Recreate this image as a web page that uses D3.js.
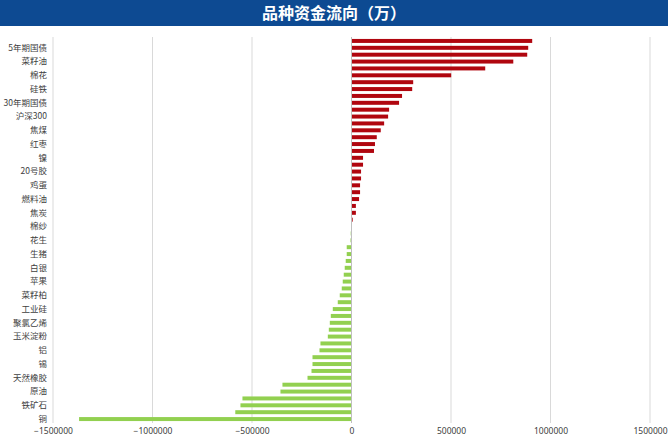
<!DOCTYPE html>
<html>
<head>
<meta charset="utf-8">
<script src="https://cdn.jsdelivr.net/npm/d3@7"></script>
<style>
  body { margin: 0; background: #fff; }
  svg { display: block; font-family: "Noto Sans CJK SC", "Noto Sans", sans-serif; }
</style>
</head>
<body>
<svg id="chart"></svg>
<script>
// categories top to bottom; only every other one is labelled on the chart
const categories = [
  '10年期国债', '5年期国债', '2年期国债', '菜籽油', '豆油', '棉花', '白糖', '硅铁',
  '锰硅', '30年期国债', '中证500', '沪深300', '上证50', '焦煤', '中证1000', '红枣',
  '纸浆', '镍', 'PTA', '20号胶', '玻璃', '鸡蛋', '尿素', '燃料油',
  '沥青', '焦炭', '短纤', '棉纱', '苯乙烯', '花生', '纯碱', '生猪',
  '豆粕', '白银', '乙二醇', '苹果', '塑料', '菜籽柏', '聚丙烯', '工业硅',
  '甲醇', '聚氯乙烯', '玉米', '玉米淀粉', '锌', '铝', '不锈钢', '锡',
  '螺纹钢', '天然橡胶', '热卷', '原油', '黄金', '铁矿石', '豆一', '铜'
];
const flows = [
  908000, 888000, 883000, 813000, 672000, 501000, 310000, 305000,
  254000, 239000, 189000, 184000, 164000, 147000, 127000, 118000,
  113000, 58000, 58000, 48000, 48000, 43000, 43000, 38000,
  22000, 22000, 6000, 1000, -4000, -5000, -24000, -24000,
  -29000, -34000, -39000, -44000, -49000, -59000, -69000, -94000,
  -104000, -109000, -114000, -119000, -156000, -161000, -196000, -196000,
  -201000, -221000, -347000, -357000, -548000, -558000, -584000, -1369000
];
const xTicks = [-1500000, -1000000, -500000, 0, 500000, 1000000, 1500000];
const title = '品种资金流向（万）';

const width = 668, height = 439;
const svg = d3.select('#chart').attr('width', width).attr('height', height);

// title banner
svg.append('rect')
  .attr('x', 0).attr('y', 0)
  .attr('width', width).attr('height', 26)
  .attr('fill', '#0d4a92');
svg.append('text')
  .attr('x', width / 2).attr('y', 19)
  .attr('text-anchor', 'middle')
  .attr('fill', '#fff')
  .attr('font-weight', 'bold')
  .attr('font-size', '16px')
  .text(title);

const x = d3.scaleLinear().domain([-1500000, 1500000]).range([53, 650]);
const y = d3.scaleBand().domain(categories).range([37.5, 422.5]).paddingInner(0.42).paddingOuter(0.21);

// gridlines
svg.append('g')
  .selectAll('line')
  .data(xTicks.filter(d => d !== 0))
  .enter().append('line')
  .attr('x1', d => x(d)).attr('x2', d => x(d))
  .attr('y1', 37).attr('y2', 423)
  .attr('stroke', '#d9d9d9')
  .attr('stroke-width', 1);

// bars
svg.append('g')
  .selectAll('rect')
  .data(flows)
  .enter().append('rect')
  .attr('x', d => x(Math.min(0, d)))
  .attr('y', (d, i) => y(categories[i]))
  .attr('width', d => Math.abs(x(d) - x(0)))
  .attr('height', y.bandwidth())
  .attr('fill', d => d >= 0 ? '#b0060f' : '#92d050');

// zero axis
svg.append('line')
  .attr('x1', x(0)).attr('x2', x(0))
  .attr('y1', 37).attr('y2', 423)
  .attr('stroke', '#bfbfbf')
  .attr('stroke-width', 1);

// x tick labels
const xAxis = d3.axisBottom(x)
  .tickValues(xTicks)
  .tickFormat(d3.format('d'))
  .tickSize(0)
  .tickPadding(5);
const gx = svg.append('g').attr('transform', 'translate(0,423)').call(xAxis);
gx.select('.domain').remove();
gx.selectAll('text')
  .attr('font-size', '8.5px')
  .attr('font-family', '"Noto Sans", sans-serif')
  .attr('fill', '#404040');

// category labels (every other one, from the bottom)
const yAxis = d3.axisLeft(y)
  .tickValues(categories.filter((d, i) => (categories.length - 1 - i) % 2 === 0))
  .tickSize(0)
  .tickPadding(6);
const gy = svg.append('g').attr('transform', 'translate(53,0)').call(yAxis);
gy.select('.domain').remove();
gy.selectAll('text')
  .attr('font-size', '8.5px')
  .attr('font-family', '"Noto Sans CJK SC", sans-serif')
  .attr('fill', '#404040');
</script>
</body>
</html>
